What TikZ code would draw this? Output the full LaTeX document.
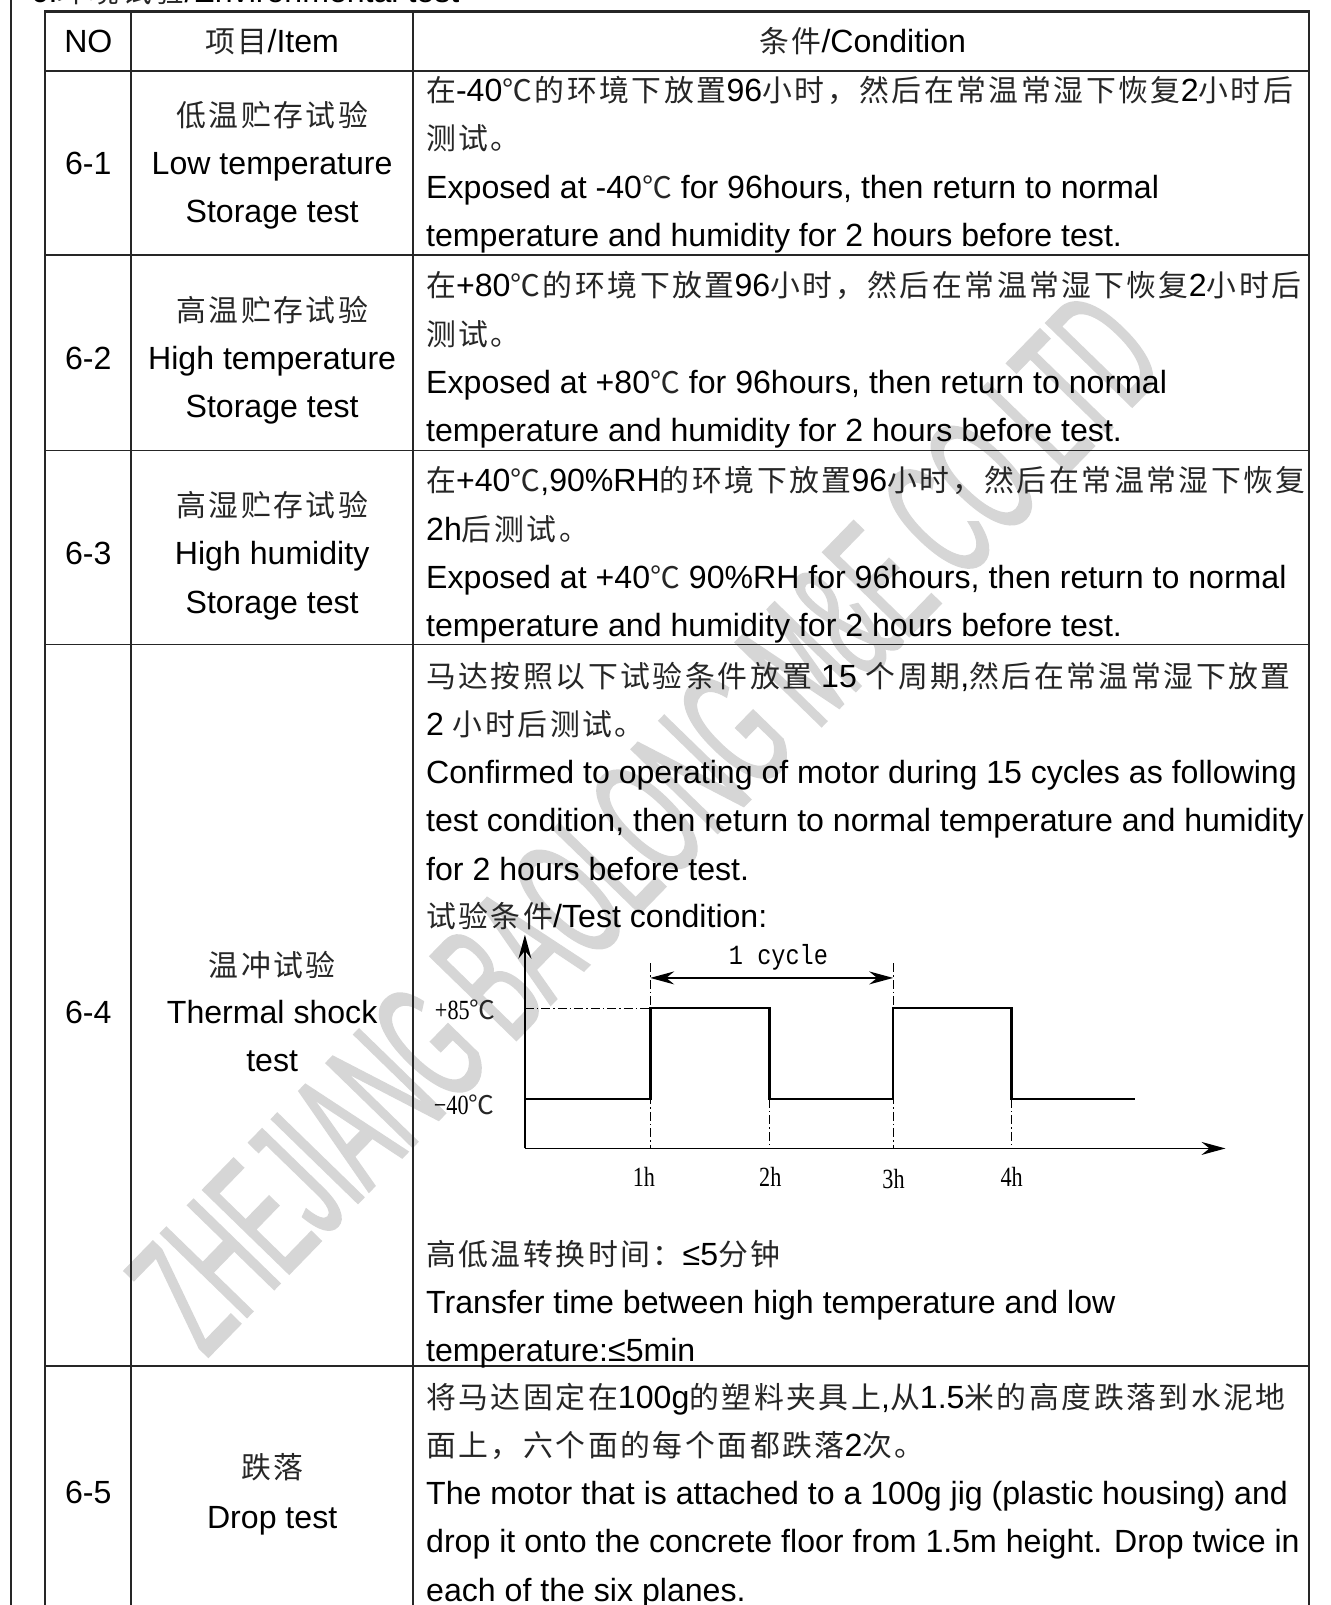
\documentclass[tikz,border=0pt]{standalone}
\usepackage{fontspec}
\setmainfont{Liberation Sans}
\newfontfamily\cjk[Scale=0.93,LetterSpace=8.5,Color=262626]{Noto Sans CJK SC}
\newfontfamily\wmfont[FakeBold=1.2,FakeStretch=0.48]{Liberation Sans}
\newfontfamily\serifc[FakeStretch=0.8]{Liberation Serif}
\newfontfamily\monoc[FakeStretch=0.85]{Liberation Mono}
\usetikzlibrary{arrows.meta}
\newcommand{\zh}[1]{{\cjk #1}}
\begin{document}
\begin{tikzpicture}[x=1pt,y=-1pt,scale=1.027,
  every node/.style={inner sep=0pt, outer sep=0pt, transform shape, font=\fontsize{31.25}{37}\selectfont},
  cond/.style={anchor=base west},
  itm/.style={anchor=base},
  grid/.style={line width=1.6pt, black!85},
  frame/.style={line width=2.6pt, black!85},
  wave/.style={line width=2.8pt},
  axis/.style={line width=1.4pt},
  dd/.style={line width=0.9pt, dash pattern=on 9pt off 3pt on 1.5pt off 3pt},
  chartlbl/.style={font=\fontsize{27}{30}\selectfont\serifc},
  sth/.tip={Stealth[length=24pt,width=13pt,inset=8pt]},
  tip/.style={-sth}
]
\useasboundingbox (0,0) rectangle (1295.03,1562.80);
% watermark
\node[rotate=45.8, text=black!16, font=\fontsize{170}{170}\selectfont\wmfont] (wm) at (628,800) {ZHEJIANG BAOLONG M\&E CO LTD};
% cut title at top
\node[anchor=base west] (title) at (30,2.4) {6.\zh{环境试验}/Environmental test};
% frame and grid
\draw[frame] (10.7,0) -- (10.7,1562.8);
\draw[frame] (43.8,1562.8) -- (43.8,11.4) -- (1274.6,11.4) -- (1274.6,1562.8);
\draw[grid] (43.8,69) -- (1274.6,69);
\draw[grid] (43.8,248.5) -- (1274.6,248.5);
\draw[grid] (43.8,438.5) -- (1274.6,438.5);
\draw[grid] (43.8,627.5) -- (1274.6,627.5);
\draw[grid] (43.8,1330) -- (1274.6,1330);
\draw[grid] (127.6,11.4) -- (127.6,1562.8);
\draw[grid] (402,11.4) -- (402,1562.8);
% header
\node[itm] (hno) at (86,51) {NO};
\node[itm] (hitem) at (265,51) {\zh{项目}/Item};
\node[itm] (hcond) at (840,51) {\zh{条件}/Condition};
% row 6-1
\node[itm] (n1) at (86,170) {6-1};
\node[itm] (i1a) at (265,123) {\zh{低温贮存试验}};
\node[itm] (i1b) at (265,170) {Low temperature};
\node[itm] (i1c) at (265,217) {Storage test};
\node[cond] (c1a) at (415,99) {\zh{在}-40\zh{℃的环境下放置}96\zh{小时，然后在常温常湿下恢复}2\zh{小时后}};
\node[cond] (c1b) at (415,146) {\zh{测试。}};
\node[cond] (c1c) at (415,193) {Exposed at -40\zh{℃} for 96hours, then return to normal};
\node[cond] (c1d) at (415,240) {temperature and humidity for 2 hours before test.};
% row 6-2
\node[itm] (n2) at (86,360) {6-2};
\node[itm] (i2a) at (265,313) {\zh{高温贮存试验}};
\node[itm] (i2b) at (265,360) {High temperature};
\node[itm] (i2c) at (265,407) {Storage test};
\node[cond] (c2a) at (415,289) {\zh{在}+80\zh{℃的环境下放置}96\zh{小时，然后在常温常湿下恢复}2\zh{小时后}};
\node[cond] (c2b) at (415,336) {\zh{测试。}};
\node[cond] (c2c) at (415,383) {Exposed at +80\zh{℃} for 96hours, then return to normal};
\node[cond] (c2d) at (415,430) {temperature and humidity for 2 hours before test.};
% row 6-3
\node[itm] (n3) at (86,550) {6-3};
\node[itm] (i3a) at (265,503) {\zh{高湿贮存试验}};
\node[itm] (i3b) at (265,550) {High humidity};
\node[itm] (i3c) at (265,597) {Storage test};
\node[cond] (c3a) at (415,479) {\zh{在}+40\zh{℃},90\%RH\zh{的环境下放置}96\zh{小时，然后在常温常湿下恢复}};
\node[cond] (c3b) at (415,526) {2h\zh{后测试。}};
\node[cond] (c3c) at (415,573) {Exposed at +40\zh{℃} 90\%RH for 96hours, then return to normal};
\node[cond] (c3d) at (415,620) {temperature and humidity for 2 hours before test.};
% row 6-4
\node[itm] (n4) at (86,997) {6-4};
\node[itm] (i4a) at (265,951) {\zh{温冲试验}};
\node[itm] (i4b) at (265,997) {Thermal shock};
\node[itm] (i4c) at (265,1043) {test};
\node[cond] (c4a) at (415,669) {\zh{马达按照以下试验条件放置} 15 \zh{个周期},\zh{然后在常温常湿下放置}};
\node[cond] (c4b) at (415,716) {2 \zh{小时后测试。}};
\node[cond] (c4c) at (415,763) {Confirmed to operating of motor during 15 cycles as following};
\node[cond] (c4d) at (415,810) {test condition, then return to normal temperature and humidity};
\node[cond] (c4e) at (415,857) {for 2 hours before test.};
\node[cond] (c4f) at (415,903) {\zh{试验条件}/Test condition:};
\node[cond] (c4g) at (415,1232) {\zh{高低温转换时间：}≤5\zh{分钟}};
\node[cond] (c4h) at (415,1279) {Transfer time between high temperature and low};
\node[cond] (c4i) at (415,1326) {temperature:≤5min};
% chart
\coordinate (O) at (511,1118);
\coordinate (ytop) at (511,910);
\coordinate (xend) at (1193,1118);
\draw[dd] (511,981.5) -- (633,981.5);
\draw[dd] (633,938) -- (633,1118);
\draw[dd] (749,1070) -- (749,1118);
\draw[dd] (869.5,938) -- (869.5,1118);
\draw[dd] (985,1070) -- (985,1118);
\draw[axis,tip] (O) -- (ytop);
\draw[axis,tip] (O) -- (xend);
\draw[wave] (511,1070) -- (633,1070) -- (633,981.5) -- (749,981.5) -- (749,1070) -- (869.5,1070) -- (869.5,981.5) -- (985,981.5) -- (985,1070) -- (1105,1070);
\coordinate (ca) at (633,952);
\coordinate (cb) at (869.5,952);
\draw[axis,sth-sth] (ca) -- (cb);
\node[font=\fontsize{27}{30}\selectfont\monoc] (cyc) at (758,932) {1 cycle};
\node[chartlbl] (t85) at (453,983) {+85\zh{℃}};
\node[chartlbl] (t40) at (452,1076) {\textminus40\zh{℃}};
\node[chartlbl] (h1) at (627,1146) {1h};
\node[chartlbl] (h2) at (750,1146) {2h};
\node[chartlbl] (h3) at (870,1148) {3h};
\node[chartlbl] (h4) at (985,1146) {4h};
% row 6-5
\node[itm] (n5) at (86,1464) {6-5};
\node[itm] (i5a) at (265,1440) {\zh{跌落}};
\node[itm] (i5b) at (265,1488) {Drop test};
\node[cond] (c5a) at (415,1371) {\zh{将马达固定在}100g\zh{的塑料夹具上},\zh{从}1.5\zh{米的高度跌落到水泥地}};
\node[cond] (c5b) at (415,1418) {\zh{面上，六个面的每个面都跌落}2\zh{次。}};
\node[cond] (c5c) at (415,1465) {The motor that is attached to a 100g jig (plastic housing) and};
\node[cond] (c5d) at (415,1512) {drop it onto the concrete floor from 1.5m height. Drop twice in};
\node[cond] (c5e) at (415,1559) {each of the six planes.};
\end{tikzpicture}
\end{document}
